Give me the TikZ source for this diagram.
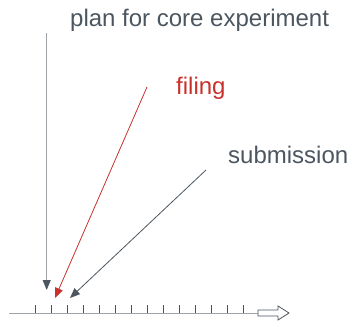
\documentclass[tikz,border=0pt]{standalone}
\usepackage{fontspec}
\setmainfont{Liberation Sans}
\usepackage{tikz}
\usetikzlibrary{arrows.meta}
\definecolor{inkgray}{HTML}{4B5660}
\definecolor{linegray}{HTML}{9EA3A8}
\definecolor{filered}{HTML}{C8322B}

\begin{document}
\begin{tikzpicture}[x=1pt,y=-1pt,
  lbl/.style={anchor=base west,inner sep=0pt,font=\fontsize{24}{28}\selectfont,text=inkgray},
  tip/.style={-{Triangle[length=10pt,width=8pt]}}]
\useasboundingbox (0,0) rectangle (351,321);
\node [lbl] (plan) at (70,27) {plan for core experiment};
\node [lbl,text=filered] (filing) at (176,95) {filing};
\node [lbl] (subm) at (228,163) {submission};
\coordinate (planstart) at (46.7,33);
\coordinate (planend) at (46.7,290);
\coordinate (filestart) at (147,87);
\coordinate (fileend) at (55,298);
\coordinate (submstart) at (206,170);
\coordinate (submend) at (70,298);
\coordinate (axisstart) at (9,313);
\coordinate (axisend) at (258,313);
\draw [line width=1pt,color=linegray] (axisstart) -- (axisend);
\foreach \k in {0,...,13}
  \draw [line width=0.8pt,color=inkgray] (35+16*\k,305) -- (35+16*\k,313);
\draw [line width=0.8pt,color=inkgray,fill=white] (axisend) ++(0,-3) -- ++(20,0) -- ++(0,-4) -- ++(11,7) -- ++(-11,7) -- ++(0,-4) -- ++(-20,0) -- cycle;
\draw [tip,line width=0.8pt,color=linegray,-{Triangle[length=10pt,width=8pt,color=inkgray]}] (planstart) -- (planend);
\draw [tip,line width=0.8pt,color=filered] (filestart) -- (fileend);
\draw [tip,line width=0.8pt,color=inkgray] (submstart) -- (submend);
\end{tikzpicture}
\end{document}
